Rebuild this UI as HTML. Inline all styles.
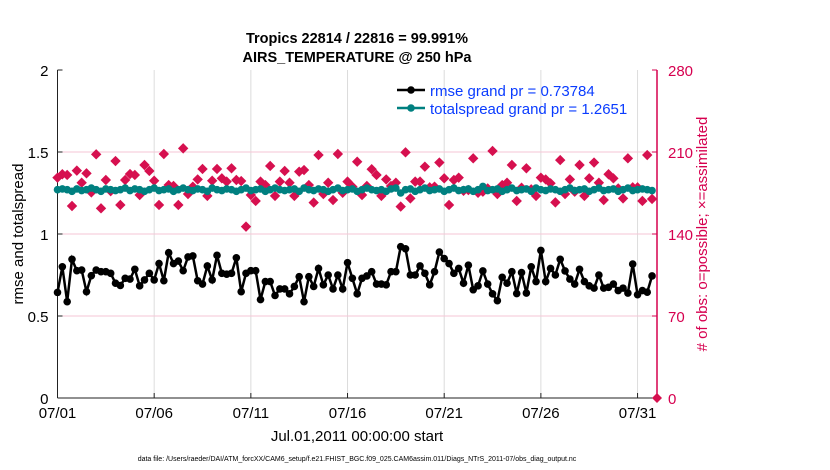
<!DOCTYPE html>
<html><head><meta charset="utf-8"><style>
body{margin:0;background:#fff;}
svg{display:block;font-family:"Liberation Sans",Arial,sans-serif;}
</style></head><body>
<svg id="c" width="830" height="470">
<text x="357" y="43" text-anchor="middle" font-size="14.5" font-weight="bold">Tropics 22814 / 22816 = 99.991%</text>
<text x="357" y="62" text-anchor="middle" font-size="14.5" font-weight="bold">AIRS_TEMPERATURE @ 250 hPa</text>
<g id="grid"></g>
<g id="axes"></g>
<g id="marks"></g>
<text transform="translate(23,234) rotate(-90)" text-anchor="middle" font-size="15">rmse and totalspread</text>
<text transform="translate(707,234) rotate(-90)" text-anchor="middle" font-size="15" fill="#d6004f"># of obs: o=possible; ×=assimilated</text>
<text x="357" y="441" text-anchor="middle" font-size="15">Jul.01,2011 00:00:00 start</text>
<text x="357" y="461" text-anchor="middle" font-size="7">data file: /Users/raeder/DAI/ATM_forcXX/CAM6_setup/f.e21.FHIST_BGC.f09_025.CAM6assim.011/Diags_NTrS_2011-07/obs_diag_output.nc</text>
<g>
<line x1="397" y1="90" x2="425" y2="90" stroke="#000" stroke-width="2.5"/>
<circle cx="411" cy="90" r="3.8" fill="#000"/>
<text x="430" y="96" font-size="15" fill="#0a3cff">rmse grand pr = 0.73784</text>
<line x1="397" y1="108" x2="425" y2="108" stroke="#008080" stroke-width="2.5"/>
<circle cx="411" cy="108" r="3.8" fill="#008080"/>
<text x="430" y="114" font-size="15" fill="#0a3cff">totalspread grand pr = 1.2651</text>
</g>
</svg>
<script>
const xTickLabels=["07/01","07/06","07/11","07/16","07/21","07/26","07/31"];
const xTickDays=[0,5,10,15,20,25,30];
const leftTicks=[0,0.5,1,1.5,2];
const leftTickLabels=["0","0.5","1","1.5","2"];
const rightTicks=[0,70,140,210,280];
const rmse=[0.644,0.80,0.587,0.846,0.776,0.78,0.648,0.746,0.78,0.77,0.77,0.76,0.70,0.686,0.73,0.725,0.785,0.684,0.72,0.76,0.72,0.82,0.715,0.886,0.82,0.835,0.776,0.86,0.866,0.715,0.695,0.805,0.72,0.87,0.76,0.755,0.76,0.855,0.648,0.76,0.776,0.776,0.60,0.71,0.71,0.625,0.665,0.665,0.635,0.68,0.74,0.587,0.74,0.68,0.79,0.69,0.75,0.665,0.75,0.665,0.825,0.73,0.635,0.73,0.744,0.77,0.695,0.695,0.69,0.77,0.77,0.923,0.91,0.75,0.75,0.805,0.76,0.69,0.77,0.89,0.85,0.82,0.76,0.79,0.70,0.81,0.66,0.684,0.775,0.695,0.635,0.593,0.736,0.70,0.77,0.637,0.765,0.64,0.80,0.71,0.90,0.71,0.79,0.75,0.846,0.775,0.725,0.695,0.785,0.71,0.684,0.67,0.75,0.67,0.675,0.695,0.655,0.67,0.64,0.817,0.63,0.655,0.645,0.744];
const spread=[1.27,1.275,1.27,1.26,1.275,1.265,1.27,1.28,1.27,1.26,1.275,1.27,1.265,1.27,1.28,1.265,1.275,1.27,1.26,1.27,1.28,1.265,1.27,1.275,1.26,1.27,1.28,1.27,1.265,1.275,1.27,1.26,1.28,1.27,1.265,1.275,1.27,1.26,1.27,1.28,1.265,1.27,1.275,1.26,1.27,1.28,1.27,1.265,1.27,1.275,1.26,1.28,1.27,1.265,1.275,1.27,1.26,1.27,1.28,1.265,1.27,1.275,1.26,1.27,1.28,1.27,1.265,1.27,1.26,1.275,1.28,1.25,1.27,1.275,1.26,1.27,1.28,1.265,1.27,1.275,1.26,1.27,1.28,1.265,1.27,1.275,1.26,1.27,1.29,1.265,1.27,1.275,1.26,1.27,1.28,1.265,1.27,1.275,1.26,1.28,1.27,1.265,1.275,1.27,1.26,1.27,1.28,1.265,1.27,1.275,1.26,1.27,1.28,1.265,1.27,1.275,1.26,1.27,1.28,1.265,1.27,1.275,1.27,1.265];
const nobs=[188.1,191,190.4,163.9,194.1,183.8,191.8,175.5,208,161.9,186.1,176.6,202.3,164.8,186.1,191.2,190.4,173.3,198.9,193.8,185.5,164.8,208.3,181.8,181,164.8,213.1,174.1,180.4,186.6,195.5,172.5,185.5,195.5,187.5,184.7,196.1,186.1,185.2,146.3,173.3,168.2,184.7,181.8,198.1,172.5,184.7,193.8,183.8,172.5,193.2,194.6,181.8,166.8,207.4,174.1,183.8,169,208.3,175.2,184.7,180.4,201.7,173.3,181.0,195.3,190.4,172.5,186.6,181.0,183.8,163.4,209.7,170.4,184.7,184.7,197.5,179.8,180.4,201.0,187.5,164.8,186.1,188.1,176.9,177.5,204.6,175.2,176.1,178.9,210.9,174.1,181.8,183.8,198.9,168.2,179.5,196.1,178.1,172.5,188.1,186.6,183.3,167.0,203.1,174.1,186.6,176.1,198.9,172.5,187.5,201.0,183.8,169.0,191.0,187.5,178.9,170.4,204.6,179.8,179.8,168.2,207.4,169.9];

const NS="http://www.w3.org/2000/svg";
const X0=57.5,X1=657,Y0=398,Y1=70,DW=19.335;
const xs=d=>X0+d*DW;
const yl=v=>Y0-(v/2)*(Y0-Y1);
const yr=v=>Y0-(v/280)*(Y0-Y1);
function mk(tag,attrs,parent){const e=document.createElementNS(NS,tag);for(const k in attrs)e.setAttribute(k,attrs[k]);parent.appendChild(e);return e;}
const grid=document.getElementById('grid'),axes=document.getElementById('axes'),marks=document.getElementById('marks');
xTickDays.forEach((d,i)=>{
  if(d>0){const g=mk('line',{x1:xs(d),x2:xs(d),y1:Y1,y2:Y0,stroke:'#dcdcdc','stroke-width':1},grid);
  
  }
  mk('line',{x1:xs(d),x2:xs(d),y1:Y0,y2:Y0-5,stroke:'#222'},axes);
  const t=mk('text',{x:xs(d),y:Y0+20,'text-anchor':'middle','font-size':15},axes);t.textContent=xTickLabels[i];
  
  
});
rightTicks.forEach(v=>{
  if(v>0&&v<280){const g=mk('line',{x1:X0,x2:X1,y1:yr(v),y2:yr(v),stroke:'#f5c6d6','stroke-width':1},grid);
  
  }
  mk('line',{x1:X1,x2:X1-5,y1:yr(v),y2:yr(v),stroke:'#d6004f'},axes);
  const t=mk('text',{x:X1+11,y:yr(v)+6,'font-size':15,fill:'#d6004f'},axes);t.textContent=v;
  
  
});
leftTicks.forEach((v,i)=>{
  mk('line',{x1:X0,x2:X0+5,y1:yl(v),y2:yl(v),stroke:'#222'},axes);
  const t=mk('text',{x:X0-9,y:yl(v)+6,'text-anchor':'end','font-size':15},axes);t.textContent=leftTickLabels[i];
  
  
});
mk('line',{x1:X0,x2:X1,y1:Y0,y2:Y0,stroke:'#222'},axes);
mk('line',{x1:X0,x2:X0,y1:Y1,y2:Y0,stroke:'#222'},axes);
mk('line',{x1:X1,x2:X1,y1:Y1,y2:Y0,stroke:'#d6004f','stroke-width':1.5},axes);
nobs.forEach((v,i)=>{
  const x=xs(i*0.25),y=yr(v),r=5.2;
  const p=mk('polygon',{points:`${x},${y-r} ${x+r},${y} ${x},${y+r} ${x-r},${y}`,fill:'#d6104f'},marks);
  
  
});
const zp=mk('polygon',{points:`${X1},${Y0-5} ${X1+5},${Y0} ${X1},${Y0+5} ${X1-5},${Y0}`,fill:'#d6104f'},marks);


function series(arr,color,name){
  const pts=arr.map((v,i)=>xs(i*0.25)+','+yl(v)).join(' ');
  const l=mk('polyline',{points:pts,fill:'none',stroke:color,'stroke-width':2.5},marks);
  
  
  arr.forEach((v,i)=>{const c=mk('circle',{cx:xs(i*0.25),cy:yl(v),r:3.8,fill:color},marks);
    
    });
}
series(spread,'#008080','totalspread');
series(rmse,'#000','rmse');
</script>
</body></html>
